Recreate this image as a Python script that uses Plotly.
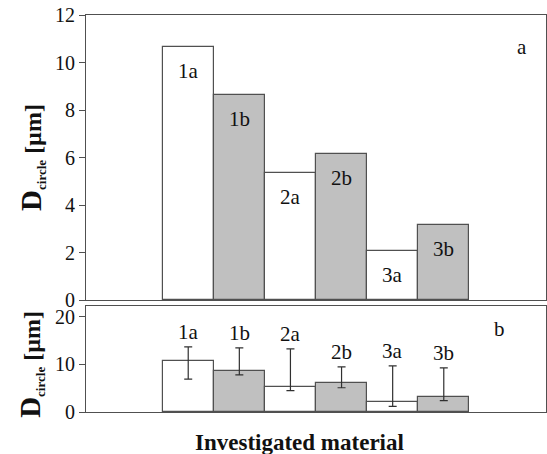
import plotly.graph_objects as go

labels = ["1a", "1b", "2a", "2b", "3a", "3b"]
values = [10.67, 8.63, 5.36, 6.16, 2.05, 3.15]
err_upper = [13.7, 13.5, 13.3, 9.5, 9.7, 9.3]
err_lower = [6.9, 7.8, 4.5, 5.1, 1.2, 2.4]
colors = ["white", "#c0c0c0", "white", "#c0c0c0", "white", "#c0c0c0"]

xpos = list(range(len(labels)))
edge = "#505050"
serif = "Liberation Serif"

fig = go.Figure()
fig.add_trace(go.Bar(x=xpos, y=values, marker=dict(color=colors, line=dict(color=edge, width=1.2)),
                     width=1, xaxis="x", yaxis="y", showlegend=False))
fig.add_trace(go.Bar(x=xpos, y=values, marker=dict(color=colors, line=dict(color=edge, width=1.2)),
                     width=1, xaxis="x2", yaxis="y2", showlegend=False,
                     error_y=dict(type="data", symmetric=False,
                                  array=[u - v for u, v in zip(err_upper, values)],
                                  arrayminus=[v - l for v, l in zip(values, err_lower)],
                                  color="#303030", thickness=1.2, width=4)))

ann = []
for x, v, lab in zip(xpos, values, labels):
    ann.append(dict(x=x, y=v, xref="x", yref="y", text=lab, showarrow=False,
                    yanchor="top", yshift=-10, font=dict(family=serif, size=21, color="#111")))
for x, u, lab in zip(xpos, err_upper, labels):
    ann.append(dict(x=x, y=u, xref="x2", yref="y2", text=lab, showarrow=False,
                    yanchor="bottom", yshift=1, font=dict(family=serif, size=21, color="#111")))
ann.append(dict(x=0.962, y=10.65, xref="paper", yref="y", text="a", showarrow=False,
                font=dict(family=serif, size=21, color="#111")))
ann.append(dict(x=0.915, y=17.5, xref="paper", yref="y2", text="b", showarrow=False,
                font=dict(family=serif, size=21, color="#111")))
ytitle = ("<b><span style='font-size:29px'>D</span><sub><span style='font-size:13px'>circle</span></sub>"
          " [µm]</b>")
ann.append(dict(x=-0.16, y=6, xref="paper", yref="y", text=ytitle, textangle=-90, showarrow=False,
                font=dict(family=serif, size=24, color="#111")))
ann.append(dict(x=-0.16, y=10, xref="paper", yref="y2", text=ytitle, textangle=-90, showarrow=False,
                font=dict(family=serif, size=24, color="#111")))
ann.append(dict(x=0.465, y=-0.04, xref="paper", yref="paper", yanchor="top",
                text="<b>Investigated material</b>", showarrow=False,
                font=dict(family=serif, size=23, color="#111")))

axis_common = dict(showline=True, linecolor=edge, linewidth=1.2, mirror=True,
                   showgrid=False, zeroline=False)
fig.update_layout(
    width=547, height=454, margin=dict(l=86, r=1, t=15, b=42),
    plot_bgcolor="white", paper_bgcolor="white", bargap=0,
    font=dict(family=serif),
    xaxis=dict(domain=[0, 1], range=[-2, 7], anchor="y", showticklabels=False, ticks="", **axis_common),
    yaxis=dict(domain=[0.2821, 1], range=[0, 12], tickvals=[0, 2, 4, 6, 8, 10, 12], ticks="outside",
               ticklen=6, tickcolor=edge, tickfont=dict(family=serif, size=20, color="#111"), **axis_common),
    xaxis2=dict(domain=[0, 1], range=[-2, 7], anchor="y2", showticklabels=False, ticks="", **axis_common),
    yaxis2=dict(domain=[0, 0.267], range=[0, 22.3], tickvals=[0, 10, 20], ticks="outside",
                ticklen=6, tickcolor=edge, tickfont=dict(family=serif, size=20, color="#111"), **axis_common),
    annotations=ann,
)
fig.write_html("out.html", config={"displayModeBar": False},
               post_script="document.body.style.margin='0';document.body.style.padding='0';")
